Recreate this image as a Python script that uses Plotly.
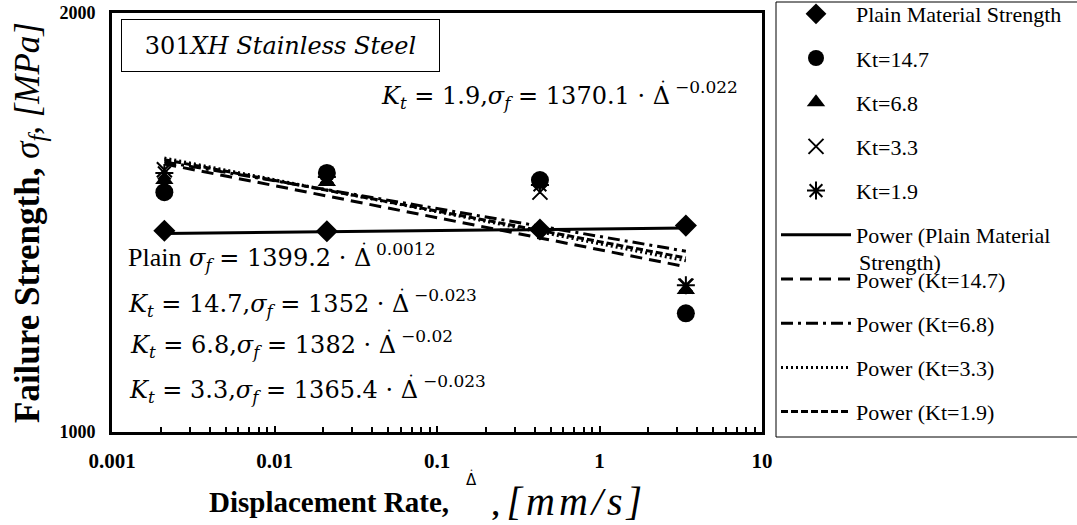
import plotly.graph_objects as go

# ---- data ----
rate = [0.0021, 0.021, 0.43, 3.4]            # displacement rate, mm/s
plain = [1395, 1394, 1398, 1407]             # Plain Material Strength, MPa
kt147 = [1487, 1535, 1517, 1217]
kt68 = [1517, 1512, 1512, 1265]
kt33 = [1543, 1522, 1487, 1273]
kt19 = [1535, 1525, 1505, 1275]

series_names = ["Plain Material Strength", "Kt=14.7", "Kt=6.8", "Kt=3.3", "Kt=1.9"]
series_values = [plain, kt147, kt68, kt33, kt19]
kt_labels = [None, "14.7", "6.8", "3.3", "1.9"]

# power-law fits printed on the chart: sigma = A * rate^b
fit_coef = [1399.2, 1352, 1382, 1365.4, 1370.1]
fit_exp = [0.0012, -0.023, -0.02, -0.023, -0.022]

x_ticks = [0.001, 0.01, 0.1, 1, 10]
y_ticks = [1000, 2000]

SERIF = "Liberation Serif"
MATH = "DejaVu Serif"

# ---- styles ----
marker_styles = [
    dict(symbol="diamond", size=17, color="black"),
    dict(symbol="circle", size=18, color="black"),
    dict(symbol="triangle-up", size=16, color="black"),
    dict(symbol="x-thin-open", size=15, color="black", line=dict(width=2, color="black")),
    dict(symbol="asterisk-open", size=15, color="black", line=dict(width=2, color="black")),
]
line_dashes = ["solid", "12px,7px", "12px,5px,3px,5px", "2px,3px", "7px,3px"]
fit_legend = ["Power (Plain Material", "Power (Kt=14.7)", "Power (Kt=6.8)",
              "Power (Kt=3.3)", "Power (Kt=1.9)"]

fig = go.Figure()
for i, (name, vals) in enumerate(zip(series_names, series_values)):
    fig.add_trace(go.Scatter(
        x=rate, y=vals, mode="markers", name=name, marker=marker_styles[i],
        legendgroup=f"m{i}"))

for i in range(len(series_names)):
    xs = [rate[0], rate[-1]]
    ys = [fit_coef[i] * x ** fit_exp[i] for x in xs]
    fig.add_trace(go.Scatter(
        x=xs, y=ys, mode="lines", name=fit_legend[i],
        line=dict(color="black", width=3, dash=line_dashes[i]),
        legendgroup=f"f{i}"))

# ---- annotations ----
L, R, T, B = 112, 315, 13, 93
W, H = 1077 - L - R, 525 - T - B


def px(x):
    return (x - L) / W


def py(y):
    return (525 - B - y) / H


def note(x, y, text, size, family=MATH, xanchor="left", yanchor="middle", **kw):
    fig.add_annotation(x=px(x), y=py(y), xref="paper", yref="paper", text=text,
                       showarrow=False, xanchor=xanchor, yanchor=yanchor,
                       font=dict(family=family, size=size, color="black"), **kw)


# equation layout: (x of the Δ centre, y of the line centre) in pixels
eq_pos = [(364, 259), (402, 305), (389, 346), (411, 391), (663, 97)]
SIG = "<i>σ</i><sub><i>f</i></sub>"
for i in range(len(fit_coef)):
    dx, y0 = eq_pos[i]
    coef = f"{fit_coef[i]:g}"
    expo = f"{fit_exp[i]:g}".replace("-", "−")
    if kt_labels[i] is None:
        head = f"<span style='font-family:Liberation Serif;font-size:26px'>Plain</span> {SIG}"
    else:
        head = f"<i>K</i><sub><i>t</i></sub> = {kt_labels[i]},{SIG}"
    note(dx + 8.5, y0, f"{head} = {coef} · Δ", 24, xanchor="right")
    note(dx, y0 - 15, "•", 7, xanchor="center")
    note(dx + 10, y0 - 10, expo, 17)

note(280, 46, "301<i>XH Stainless Steel</i>", 24, xanchor="center",
     width=313, height=47, bordercolor="black", borderwidth=1, borderpad=2, bgcolor="white")

# legend frame and the second line of the wrapped entry "Power (Plain Material Strength)"
fig.add_shape(type="rect", xref="paper", yref="paper",
              x0=px(776), x1=px(1090), y0=py(437), y1=py(2),
              line=dict(color="black", width=1), fillcolor="rgba(0,0,0,0)", layer="above")
note(857, 262, "Strength)", 22, family=SERIF)

# x-axis title
note(207, 502, "<b>Displacement Rate,</b>", 29, family=SERIF)
note(471, 480, "Δ", 15, family="DejaVu Sans", xanchor="center")
note(471, 470, "•", 5, family="DejaVu Sans", xanchor="center")
note(490, 502, "<b>,</b> <span style='font-size:40px;letter-spacing:4px'><i>[mm/s]</i></span>",
     29, family=SERIF)

fig.update_layout(
    width=1077, height=525,
    margin=dict(l=L, r=R, t=T, b=B, autoexpand=False),
    paper_bgcolor="white", plot_bgcolor="white",
    font=dict(family=SERIF, color="black"),
    showlegend=True,
    legend=dict(x=px(776), y=py(-7), xanchor="left", yanchor="top",
                borderwidth=0, bgcolor="rgba(0,0,0,0)",
                font=dict(family=SERIF, size=22, color="black"),
                itemwidth=70, tracegroupgap=12.6, traceorder="grouped", valign="top",
                maxheight=1.0),
)

fig.update_xaxes(
    type="log", range=[-3, 1], tickmode="array", tickvals=x_ticks,
    ticktext=[str(v) for v in x_ticks],
    ticks="inside", ticklen=6, tickwidth=2, tickcolor="black",
    minor=dict(ticks="inside", ticklen=5, tickwidth=2, tickcolor="black", dtick="D1",
               showgrid=False),
    showgrid=False, zeroline=False,
    showline=True, linewidth=3, linecolor="black", mirror=True,
    ticklabelstandoff=8,
    tickfont=dict(family=SERIF, size=21, color="black", weight="bold"),
)
fig.update_yaxes(
    type="log", range=[3, 3.30103], tickmode="array", tickvals=y_ticks,
    ticktext=[str(v) for v in y_ticks], ticks="",
    showgrid=False, zeroline=False,
    showline=True, linewidth=3, linecolor="black", mirror=True,
    ticklabelstandoff=10,
    tickfont=dict(family=SERIF, size=18, color="black", weight="bold"),
    title=dict(text="<b>Failure Strength, </b><i>σ<sub>f</sub>, [MPa]</i>",
               font=dict(family=SERIF, size=35, color="black"), standoff=10),
)

fig.write_html("out.html")
